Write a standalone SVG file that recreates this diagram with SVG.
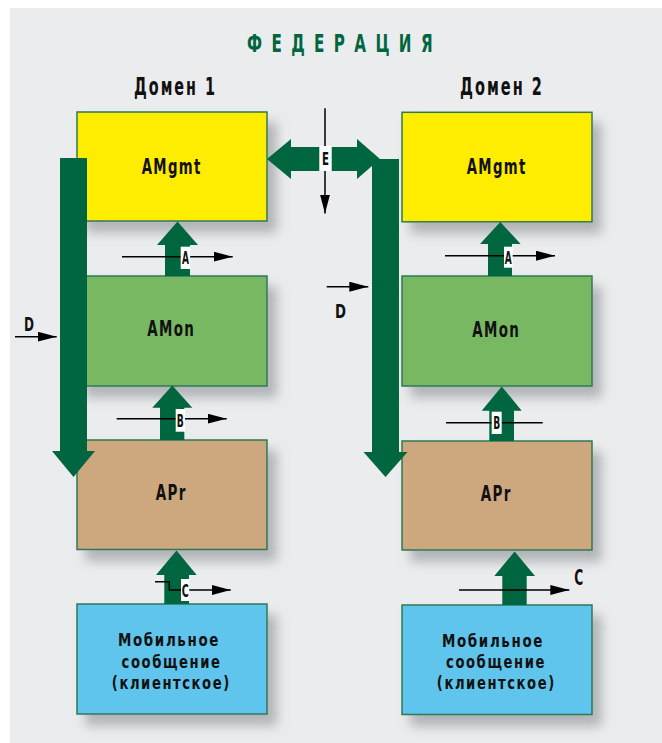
<svg xmlns="http://www.w3.org/2000/svg" width="662" height="743" viewBox="0 0 662 743">
<defs>
<style>
.t{font-family:"Liberation Sans Narrow","DejaVu Sans Condensed","Liberation Sans",sans-serif;font-weight:bold;fill:#111;text-anchor:middle}
.box{stroke:#2d7a55;stroke-width:1.5}
.g{fill:#00663f}
.ln{stroke:#000;stroke-width:1.5;fill:none}
.lb{fill:#fff}
</style>
<filter id="sh" x="-20%" y="-20%" width="150%" height="160%">
<feDropShadow dx="9" dy="11" stdDeviation="6" flood-color="#80868a" flood-opacity="0.55"/>
</filter>
<marker id="ah" markerUnits="userSpaceOnUse" markerWidth="20" markerHeight="12" refX="19" refY="5" orient="auto">
<path d="M0,0 L19,5 L0,10 z" fill="#000"/>
</marker>
</defs>
<rect x="10" y="8" width="652" height="735" fill="#ebeced"/>
<text class="t" x="344.5" y="52" font-size="25" style="fill:#00663f" textLength="195" lengthAdjust="spacingAndGlyphs" letter-spacing="14">ФЕДЕРАЦИЯ</text>
<text class="t" x="175.5" y="95" font-size="24" textLength="83" lengthAdjust="spacingAndGlyphs" letter-spacing="3">Домен 1</text>
<text class="t" x="502" y="95" font-size="24" textLength="84" lengthAdjust="spacingAndGlyphs" letter-spacing="3">Домен 2</text>

<g id="node-amgmt1"><rect class="box" x="77" y="112" width="190" height="109" fill="#ffed00" filter="url(#sh)"/><text class="t" x="171.7" y="174" font-size="22" textLength="60" lengthAdjust="spacingAndGlyphs" letter-spacing="2">AMgmt</text></g>
<g id="node-amon1"><rect class="box" x="77" y="276" width="190" height="110" fill="#78b864" filter="url(#sh)"/><text class="t" x="171.2" y="335.7" font-size="22" textLength="48" lengthAdjust="spacingAndGlyphs" letter-spacing="2">AMon</text></g>
<g id="node-apr1"><rect class="box" x="77" y="440" width="190" height="109.5" fill="#cda77e" filter="url(#sh)"/><text class="t" x="171.3" y="500" font-size="22" textLength="31" lengthAdjust="spacingAndGlyphs" letter-spacing="2">APr</text></g>
<g id="node-mob1"><rect class="box" x="77" y="604" width="190" height="110" fill="#5ec5ec" filter="url(#sh)"/>
<text class="t" x="169" y="646" font-size="18.5" textLength="102" lengthAdjust="spacingAndGlyphs" letter-spacing="2">Мобильное</text>
<text class="t" x="171.6" y="667.5" font-size="18.5" textLength="100" lengthAdjust="spacingAndGlyphs" letter-spacing="2">сообщение</text>
<text class="t" x="171.3" y="688.5" font-size="18.5" textLength="119" lengthAdjust="spacingAndGlyphs" letter-spacing="2">(клиентское)</text></g>

<g id="node-amgmt2"><rect class="box" x="402" y="112.3" width="190" height="109.5" fill="#ffed00" filter="url(#sh)"/><text class="t" x="496.7" y="174" font-size="22" textLength="60" lengthAdjust="spacingAndGlyphs" letter-spacing="2">AMgmt</text></g>
<g id="node-amon2"><rect class="box" x="402" y="276" width="190" height="110" fill="#78b864" filter="url(#sh)"/><text class="t" x="496.2" y="336.7" font-size="22" textLength="48" lengthAdjust="spacingAndGlyphs" letter-spacing="2">AMon</text></g>
<g id="node-apr2"><rect class="box" x="402" y="441" width="190" height="109" fill="#cda77e" filter="url(#sh)"/><text class="t" x="496.3" y="501" font-size="22" textLength="31" lengthAdjust="spacingAndGlyphs" letter-spacing="2">APr</text></g>
<g id="node-mob2"><rect class="box" x="402" y="605" width="190" height="109.5" fill="#5ec5ec" filter="url(#sh)"/>
<text class="t" x="493" y="646.5" font-size="18.5" textLength="102" lengthAdjust="spacingAndGlyphs" letter-spacing="2">Мобильное</text>
<text class="t" x="496" y="668" font-size="18.5" textLength="100" lengthAdjust="spacingAndGlyphs" letter-spacing="2">сообщение</text>
<text class="t" x="496.3" y="689" font-size="18.5" textLength="119" lengthAdjust="spacingAndGlyphs" letter-spacing="2">(клиентское)</text></g>

<g id="connectors">
<polygon class="g" points="60,158 87,158 87,451 95,451 73.5,477 52,451 60,451"/>
<polygon class="g" points="372,159 399,159 399,452 407.5,452 385.5,477 363.5,452 372,452"/>
<polygon class="g" points="267,159 291,139 291,147 357,147 357,139 380,159 357,179 357,171 291,171 291,179"/>
<polygon class="g" points="165,276 165,245 157,245 177.5,221.5 198,245 190,245 190,276"/>
<polygon class="g" points="488,276 488,244 480,244 500.3,222 520.7,244 512,244 512,276"/>
<polygon class="g" points="160,440 160,407.7 152.3,407.7 172.3,385.5 192.3,407.7 184.3,407.7 184.3,440"/>
<polygon class="g" points="489.3,441 489.3,410.7 481.7,410.7 501.7,386.5 521.7,410.7 514,410.7 514,441"/>
<polygon class="g" points="164.3,604 164.3,575 156,575 176.5,550.5 196.7,575 189,575 189,604"/>
<polygon class="g" points="502.3,605 502.3,576 494.3,576 514.6,551.5 535,576 526.7,576 526.7,605"/>
<line class="ln" x1="122" y1="256.7" x2="232.7" y2="256.7" marker-end="url(#ah)"/>
<line class="ln" x1="445" y1="255.7" x2="555" y2="255.7" marker-end="url(#ah)"/>
<line class="ln" x1="116.7" y1="418.7" x2="226.7" y2="418.7" marker-end="url(#ah)"/>
<line class="ln" x1="446" y1="422.7" x2="542.7" y2="422.7"/>
<polyline class="ln" points="155,581.7 169.3,581.7 169.3,590 230.7,590" marker-end="url(#ah)"/>
<line class="ln" x1="459" y1="590" x2="569.3" y2="590" marker-end="url(#ah)"/>
<line class="ln" x1="15" y1="336.7" x2="56.7" y2="336.7" marker-end="url(#ah)"/>
<line class="ln" x1="326.7" y1="286.7" x2="368.3" y2="286.7" marker-end="url(#ah)"/>
<line class="ln" x1="325" y1="108.3" x2="325" y2="213.5" marker-end="url(#ah)"/>
<rect class="lb" x="180.7" y="246.7" width="9.4" height="22.3"/><text class="t" x="185.4" y="264" font-size="18" textLength="7" lengthAdjust="spacingAndGlyphs">A</text>
<rect class="lb" x="504" y="246.7" width="8.7" height="21"/><text class="t" x="508.3" y="263.5" font-size="18" textLength="7" lengthAdjust="spacingAndGlyphs">A</text>
<rect class="lb" x="175.7" y="409" width="9.3" height="22.7"/><text class="t" x="180.3" y="426.7" font-size="18" textLength="7" lengthAdjust="spacingAndGlyphs">B</text>
<rect class="lb" x="491.7" y="411.7" width="10" height="22.3"/><text class="t" x="496.7" y="429" font-size="18" textLength="7" lengthAdjust="spacingAndGlyphs">B</text>
<rect class="lb" x="181" y="579" width="8.3" height="22"/><text class="t" x="185.2" y="596.5" font-size="18" textLength="7" lengthAdjust="spacingAndGlyphs">C</text>
<rect class="lb" x="319.3" y="146" width="12.4" height="25"/><text class="t" x="325.5" y="165" font-size="18" textLength="7" lengthAdjust="spacingAndGlyphs">E</text>
<text class="t" x="29" y="330.7" font-size="20" textLength="10" lengthAdjust="spacingAndGlyphs">D</text>
<text class="t" x="340.5" y="318.3" font-size="20" textLength="11" lengthAdjust="spacingAndGlyphs">D</text>
<text class="t" x="578.8" y="585" font-size="21" textLength="9" lengthAdjust="spacingAndGlyphs">C</text>
</g>
</svg>
